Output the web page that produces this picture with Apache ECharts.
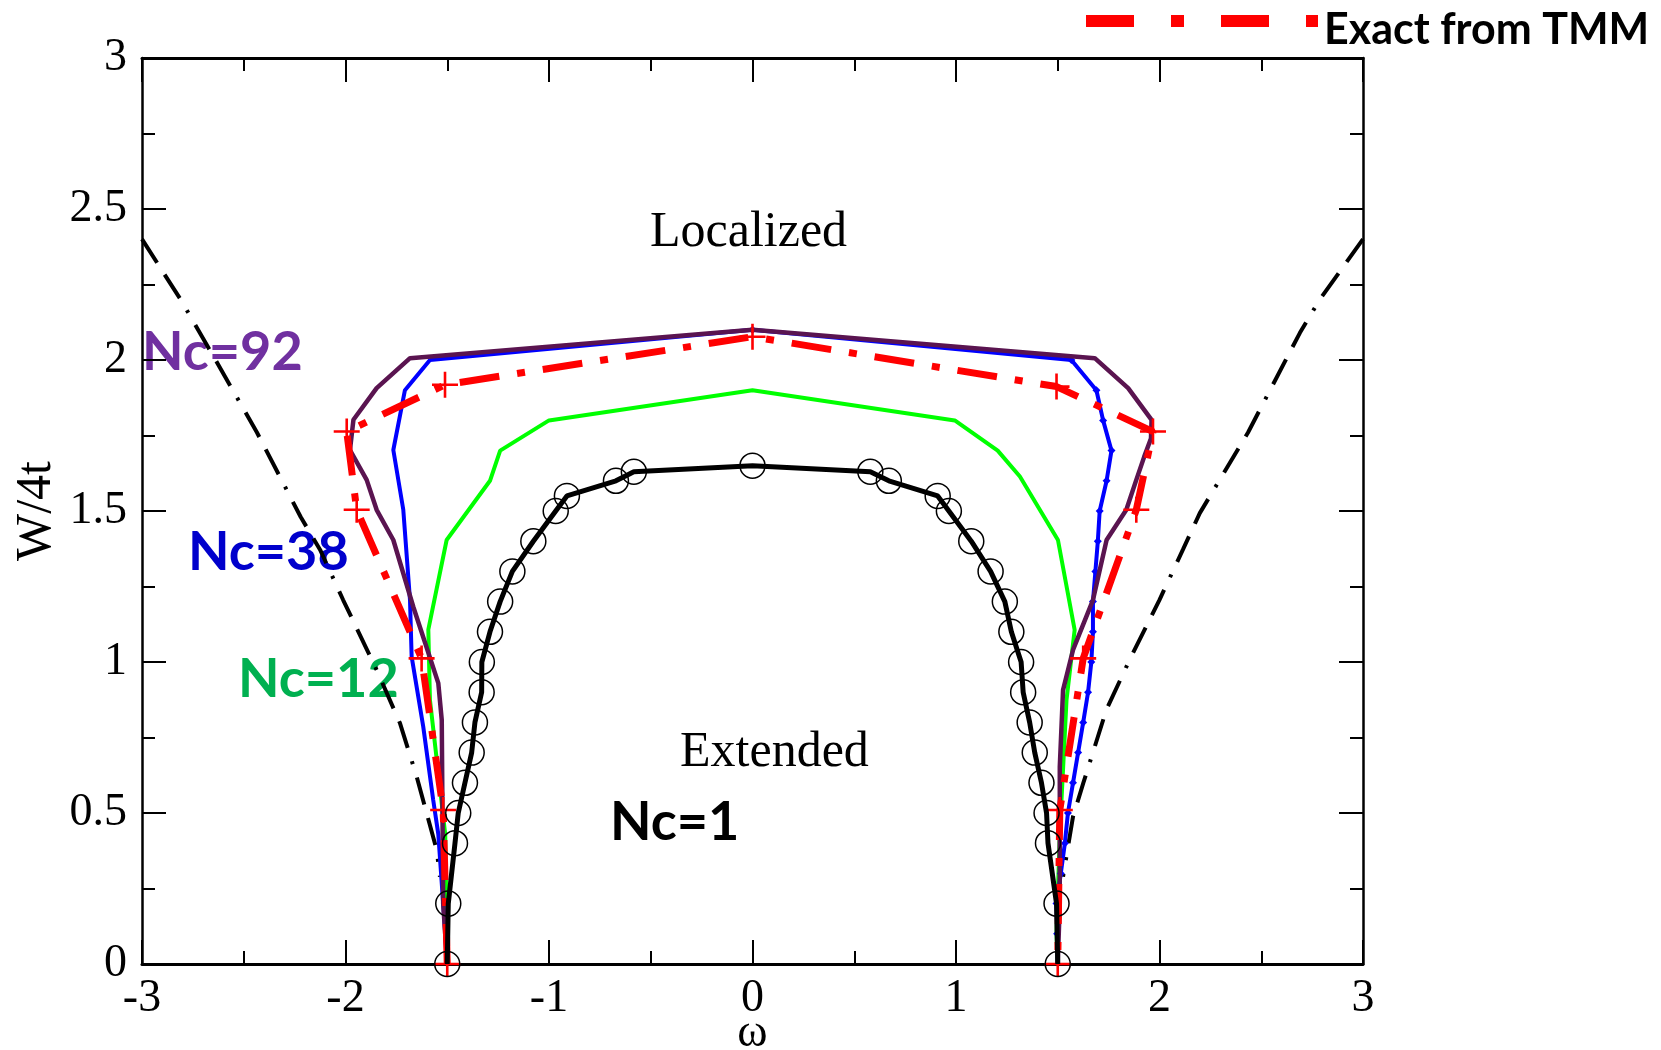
<!DOCTYPE html>
<html>
<head>
<meta charset="utf-8">
<script src="https://cdn.jsdelivr.net/npm/echarts@6/dist/echarts.min.js"></script>
<style>
  html, body { margin: 0; padding: 0; background: #fff; }
  #chart { width: 1661px; height: 1050px; }
</style>
</head>
<body>
<div id="chart"></div>
<script>
// Axis ticks
const xTicks = [-3, -2, -1, 0, 1, 2, 3];
const yTicks = [0, 0.5, 1, 1.5, 2, 2.5, 3];

// Black dash-dot boundary (left and right branches)
const edgeLeftOmega = [-3, -2.81, -2.63, -2.435, -2.22, -2.125, -2.012, -1.847, -1.732, -1.65, -1.552, -1.536];
const edgeLeftW     = [2.4, 2.2, 1.99, 1.76, 1.48, 1.372, 1.206, 0.974, 0.797, 0.62, 0.378, 0.289];
const edgeRightOmega = [3, 2.787, 2.69, 2.435, 2.198, 2.115, 2.0, 1.853, 1.739, 1.625, 1.575, 1.526];
const edgeRightW     = [2.4, 2.2, 2.09, 1.76, 1.493, 1.372, 1.206, 1.007, 0.842, 0.598, 0.488, 0.289];

// Nc=1 (black, open circles)
const nc1Omega = [-1.5, -1.495, -1.462, -1.446, -1.413, -1.38, -1.364, -1.331, -1.33, -1.29, -1.24, -1.18, -1.077, -0.967, -0.912, -0.671, -0.583, 0,
                  0.579, 0.67, 0.91, 0.965, 1.075, 1.17, 1.24, 1.272, 1.32, 1.33, 1.362, 1.387, 1.42, 1.445, 1.452, 1.494, 1.5];
const nc1W     = [0, 0.2, 0.4, 0.5, 0.6, 0.7, 0.8, 0.9, 1.0, 1.1, 1.2, 1.3, 1.4, 1.5, 1.55, 1.6, 1.63, 1.65,
                  1.63, 1.6, 1.55, 1.5, 1.4, 1.3, 1.2, 1.1, 1.0, 0.9, 0.8, 0.7, 0.6, 0.5, 0.4, 0.2, 0];

// Nc=12 (green)
const nc12Omega = [-1.5, -1.51, -1.585, -1.593, -1.503, -1.29, -1.24, -1.0, 0, 0.994, 1.205, 1.314, 1.501, 1.583, 1.543, 1.51, 1.494, 1.5];
const nc12W     = [0, 0.43, 0.874, 1.107, 1.404, 1.6, 1.7, 1.8, 1.9, 1.8, 1.7, 1.614, 1.404, 1.106, 0.874, 0.43, 0.1, 0];

// Nc=38 (blue); markers on the right branch
const nc38Omega = [-1.5, -1.52, -1.544, -1.569, -1.618, -1.675, -1.683, -1.716, -1.765, -1.708, -1.585, 0,
                   1.567, 1.69, 1.723, 1.764, 1.74, 1.706, 1.697, 1.685, 1.673, 1.673, 1.665, 1.649, 1.625, 1.60, 1.575, 1.55, 1.535, 1.515, 1.494, 1.497, 1.5];
const nc38W     = [0, 0.2, 0.43, 0.543, 0.786, 1.018, 1.205, 1.504, 1.702, 1.9, 2.0, 2.1,
                   2.0, 1.9, 1.8, 1.7, 1.6, 1.5, 1.4, 1.3, 1.2, 1.1, 1.0, 0.9, 0.8, 0.7, 0.6, 0.5, 0.4, 0.3, 0.2, 0.1, 0];

// Nc=92 (dark purple)
const nc92Omega = [-1.5, -1.52, -1.527, -1.544, -1.667, -1.765, -1.847, -1.896, -1.978, -1.961, -1.847, -1.683, 0,
                   1.682, 1.846, 1.961, 1.958, 1.925, 1.886, 1.837, 1.74, 1.673, 1.575, 1.526, 1.51, 1.51, 1.5];
const nc92W     = [0, 0.2, 0.808, 0.93, 1.183, 1.404, 1.504, 1.603, 1.702, 1.802, 1.907, 2.006, 2.1,
                   2.006, 1.907, 1.802, 1.74, 1.68, 1.603, 1.504, 1.404, 1.205, 1.04, 0.907, 0.653, 0.2, 0];

// Exact from TMM (red dash-dot, plus markers)
const tmmOmega = [-1.5, -1.52, -1.626, -1.945, -1.994, -1.511, 0, 1.494, 1.968, 1.886, 1.625, 1.51, 1.5];
const tmmW     = [0, 0.51, 1.012, 1.504, 1.763, 1.918, 2.077, 1.912, 1.763, 1.504, 1.012, 0.51, 0];

const pairs = (xs, ys) => xs.map((x, i) => [x, ys[i]]);

const PLUS = 'path://M-1,-10 L1,-10 L1,10 L-1,10 Z M-10,-1 L10,-1 L10,1 L-10,1 Z';

const serif = '"Liberation Serif", "Times New Roman", serif';
const bold = 'Lato, "Open Sans", sans-serif';

const chart = echarts.init(document.getElementById('chart'), null, { renderer: 'canvas' });

const baseX = {
  type: 'value', min: xTicks[0], max: xTicks[xTicks.length - 1], interval: 1,
  splitLine: { show: false },
  axisLine: { onZero: false, lineStyle: { color: '#000', width: 3 } },
  axisTick: { inside: true, length: 24, lineStyle: { color: '#000', width: 2 } },
  minorTick: { show: true, splitNumber: 2, length: 13, lineStyle: { color: '#000', width: 2 } }
};
const baseY = {
  type: 'value', min: yTicks[0], max: yTicks[yTicks.length - 1], interval: 0.5,
  splitLine: { show: false },
  axisLine: { onZero: false, lineStyle: { color: '#000', width: 2.5 } },
  axisTick: { inside: true, length: 24, lineStyle: { color: '#000', width: 2 } },
  minorTick: { show: true, splitNumber: 2, length: 13, lineStyle: { color: '#000', width: 2 } }
};

const nc38Data = pairs(nc38Omega, nc38W).map(p => ({
  value: p,
  symbol: (p[0] > 0 && p[1] > 0 || p[0] === 0) ? 'diamond' : 'none'
}));

chart.setOption({
  animation: false,
  backgroundColor: '#fff',
  grid: { left: 142, right: 298, top: 58, bottom: 86, outerBoundsMode: 'none', containLabel: false },
  xAxis: [
    Object.assign({}, baseX, {
      position: 'bottom',
      name: 'ω', nameLocation: 'middle', nameGap: 47, nameMoveOverlap: false,
      nameTextStyle: { fontFamily: serif, fontSize: 46, color: '#000' },
      axisLabel: { show: true, margin: 12, fontFamily: serif, fontSize: 46, color: '#000',
        formatter: v => String(v) }
    }),
    Object.assign({}, baseX, { position: 'top', axisLabel: { show: false } })
  ],
  yAxis: [
    Object.assign({}, baseY, {
      position: 'left',
      name: 'W/4t', nameLocation: 'middle', nameGap: 80, nameRotate: 90, nameMoveOverlap: false,
      nameTextStyle: { fontFamily: serif, fontSize: 50, color: '#000' },
      axisLabel: { show: true, margin: 15, fontFamily: serif, fontSize: 46, color: '#000',
        formatter: v => String(v) }
    }),
    Object.assign({}, baseY, { position: 'right', axisLabel: { show: false } })
  ],
  series: [
    { name: 'edgeL', type: 'line', data: pairs(edgeLeftOmega, edgeLeftW), symbol: 'none', z: 2,
      lineStyle: { color: '#000', width: 4, type: [28, 14, 28, 14, 3, 14] } },
    { name: 'edgeR', type: 'line', data: pairs(edgeRightOmega, edgeRightW), symbol: 'none', z: 2,
      lineStyle: { color: '#000', width: 4, type: [28, 14, 28, 14, 3, 14] } },
    { name: 'Nc=12', type: 'line', data: pairs(nc12Omega, nc12W), symbol: 'none', z: 3,
      lineStyle: { color: '#00ff00', width: 4 } },
    { name: 'Nc=38', type: 'line', data: nc38Data, symbolSize: 8, z: 4,
      itemStyle: { color: '#0000ff' }, lineStyle: { color: '#0000ff', width: 4 } },
    { name: 'Nc=92', type: 'line', data: pairs(nc92Omega, nc92W), symbol: 'none', z: 5,
      lineStyle: { color: '#5a1450', width: 4.5 } },
    { name: 'Exact from TMM', type: 'line', data: pairs(tmmOmega, tmmW), z: 6,
      symbol: PLUS, symbolSize: 26,
      itemStyle: { color: '#ff0000' },
      lineStyle: { color: '#ff0000', width: 7, type: [40, 18, 8, 18] } },
    { name: 'Nc=1', type: 'line', data: pairs(nc1Omega, nc1W), z: 7,
      symbol: 'circle', symbolSize: 25,
      itemStyle: { color: 'rgba(0,0,0,0)', borderColor: '#000', borderWidth: 1.5 },
      lineStyle: { color: '#000', width: 5 } }
  ],
  graphic: [
    // legend sample
    { type: 'line', left: 1080, top: 15,
      shape: { x1: 0, y1: 6, x2: 232, y2: 6 },
      style: { stroke: '#ff0000', lineWidth: 12, lineDash: [48, 37, 13, 37] } },
    { type: 'text', left: 1324, top: 9,
      style: { text: 'Exact from TMM', fontFamily: bold, fontWeight: 'bold', fontSize: 43, fill: '#000' } },
    // region names
    { type: 'text', left: 650, top: 208,
      style: { text: 'Localized', fontFamily: serif, fontSize: 50, fill: '#000' } },
    { type: 'text', left: 680, top: 728,
      style: { text: 'Extended', fontFamily: serif, fontSize: 50, fill: '#000' } },
    // curve labels
    { type: 'text', left: 142, top: 326,
      style: { text: 'Nc=92', fontFamily: bold, fontWeight: 'bold', fontSize: 54, fill: '#7030a0' } },
    { type: 'text', left: 188, top: 526,
      style: { text: 'Nc=38', fontFamily: bold, fontWeight: 'bold', fontSize: 54, fill: '#0000cc' } },
    { type: 'text', left: 238, top: 653,
      style: { text: 'Nc=12', fontFamily: bold, fontWeight: 'bold', fontSize: 54, fill: '#00b050' } },
    { type: 'text', left: 610, top: 796,
      style: { text: 'Nc=1', fontFamily: bold, fontWeight: 'bold', fontSize: 54, fill: '#000' } }
  ]
});
</script>
</body>
</html>
